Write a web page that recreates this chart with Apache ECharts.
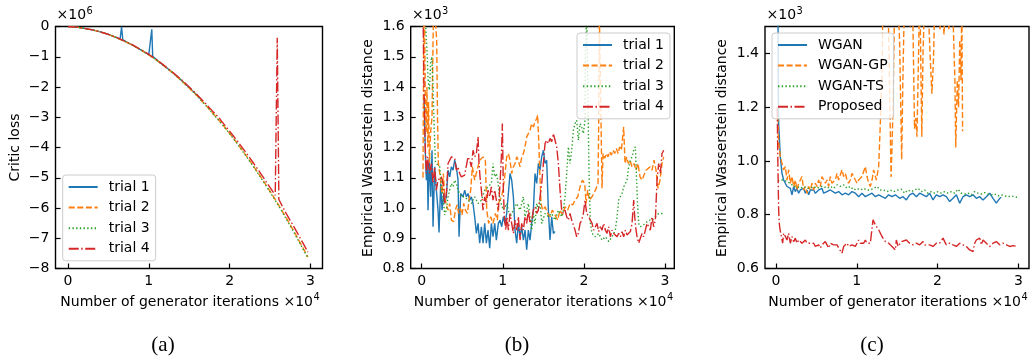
<!DOCTYPE html>
<html><head><meta charset="utf-8">
<script src="https://cdn.jsdelivr.net/npm/echarts@6/dist/echarts.min.js"></script>
<style>html,body{margin:0;padding:0;background:#fff}#c{width:1030px;height:358px}</style>
</head><body><div id="c"></div>
<script>
// ---------- DATA (x: generator iterations) ----------
// Panel (a): critic loss, y in units of 1e6
const aTrial1 = [[0,0],[1000,-0.02],[2000,-0.06],[3000,-0.11],[4000,-0.18],[5000,-0.26],[6000,-0.37],[6450,-0.41],[6630,-0.01],[6780,-0.44],[7000,-0.48],[8000,-0.62],[9000,-0.77],[10000,-0.93],[10150,-0.95],[10370,-0.09],[10480,-0.98],[11000,-1.11],[12000,-1.32],[13000,-1.53],[14000,-1.77],[15000,-2.02],[16000,-2.28],[16400,-2.39]];
const aTrial2 = [[0,0],[1000,-0.02],[2000,-0.06],[3000,-0.11],[4000,-0.18],[5000,-0.26],[6000,-0.37],[7000,-0.49],[8000,-0.62],[9000,-0.77],[10000,-0.94],[11000,-1.12],[12000,-1.33],[13000,-1.54],[14000,-1.78],[15000,-2.03],[16000,-2.30],[17000,-2.59],[18000,-2.89],[19000,-3.20],[20000,-3.53],[21000,-3.88],[22000,-4.25],[23000,-4.63],[24000,-5.03],[25000,-5.44],[26000,-5.87],[27000,-6.32],[28000,-6.79],[29000,-7.28],[29700,-7.62]];
const aTrial3 = [[0,0],[1000,-0.02],[2000,-0.06],[3000,-0.11],[4000,-0.18],[5000,-0.26],[6000,-0.37],[7000,-0.49],[8000,-0.62],[9000,-0.77],[10000,-0.94],[11000,-1.12],[12000,-1.33],[13000,-1.54],[14000,-1.78],[15000,-2.03],[16000,-2.30],[17000,-2.59],[18000,-2.90],[19000,-3.21],[20000,-3.54],[21000,-3.89],[22000,-4.27],[23000,-4.65],[24000,-5.05],[25000,-5.47],[26000,-5.90],[27000,-6.35],[28000,-6.82],[29000,-7.31],[29700,-7.66]];
const aTrial4 = [[0,0],[1000,-0.02],[2000,-0.06],[3000,-0.11],[4000,-0.18],[5000,-0.26],[6000,-0.36],[7000,-0.48],[8000,-0.61],[9000,-0.76],[10000,-0.92],[11000,-1.10],[12000,-1.31],[13000,-1.52],[14000,-1.75],[15000,-2.00],[16000,-2.26],[17000,-2.54],[18000,-2.83],[18700,-3.02],[19000,-3.13],[20000,-3.46],[21000,-3.80],[22000,-4.16],[23000,-4.53],[24000,-4.92],[25000,-5.32],[25650,-5.58],[25900,-0.37],[26100,-5.72],[27000,-6.18],[28000,-6.64],[29000,-7.12],[29700,-7.46]];

// Panel (b): empirical Wasserstein distance
const bTrial1 = [[288,1367],[452,1180],[575,1092],[699,1147],[781,993],[945,1169],[1110,1037],[1274,1191],[1397,938],[1603,1136],[1808,1059],[2014,993],[2137,919],[2343,1081],[2507,993],[2713,1048],[2836,1015],[3041,1037],[3247,1125],[3452,1103],[3658,1136],[3863,1125],[4069,1158],[4274,1136],[4480,1092],[4603,905],[4809,1048],[5096,1037],[5302,1059],[5507,1037],[5713,1048],[5918,1026],[6124,1037],[6329,1015],[6535,971],[6740,916],[6946,949],[7151,884],[7357,938],[7562,884],[7768,949],[7973,884],[8179,927],[8384,867],[8590,949],[8795,905],[9001,949],[9206,894],[9453,949],[9659,960],[9864,938],[10070,971],[10275,949],[10481,982],[10686,1048],[10892,1114],[11097,1092],[11303,1037],[11508,927],[11714,884],[11919,949],[12125,905],[12330,938],[12536,894],[12741,927],[12947,862],[13152,927],[13358,894],[13563,949],[13769,993],[13974,1114],[14180,1081],[14385,1147],[14591,1125],[14796,1169],[15002,1191],[15207,1147],[15413,1158],[15618,993],[15824,894],[16029,971],[16235,916],[16440,922]];
const bTrial2 = [[160,1100],[250,1600],[330,1700],[450,1350],[550,1250],[650,1400],[750,1200],[850,1350],[950,1150],[1100,1250],[1270,1300],[1450,1650],[1550,1700],[1750,1700],[1850,1550],[1950,1300],[2050,1150],[2150,1130],[2343,1136],[2507,1048],[2672,1114],[2836,1037],[3041,1010],[3247,993],[3452,1015],[3658,960],[3946,955],[4151,993],[4357,1010],[4562,982],[4768,999],[4973,977],[5179,1015],[5384,993],[5631,982],[5836,1026],[6042,1059],[6247,1136],[6535,1092],[6823,1125],[7151,1158],[7562,1169],[7850,1158],[8015,993],[8261,949],[8508,971],[8795,949],[9083,982],[9330,960],[9453,1015],[9864,1037],[10193,1092],[10481,1169],[10686,1180],[10892,1158],[11097,1114],[11303,1136],[11508,1147],[11714,1169],[11919,1158],[12125,1136],[12330,1169],[12536,1180],[12741,1202],[12947,1235],[13152,1246],[13358,1257],[13563,1279],[13769,1268],[13974,1285],[14180,1296],[14303,1307],[14426,1224],[14550,1125],[14714,1015],[14920,993],[15207,1004],[15536,982],[15824,971],[16111,993],[16440,977],[16769,960],[17057,993],[17345,977],[17673,1004],[18002,993],[18290,1015],[18618,1010],[18906,1026],[19235,1037],[19523,1070],[19810,1092],[20098,1081],[20262,1015],[20468,1059],[20673,1026],[21002,1037],[21413,1059],[21742,1081],[21824,1279],[21906,1650],[22112,1650],[22235,1065],[22358,1180],[22564,1164],[22769,1180],[22975,1169],[23180,1186],[23386,1175],[23591,1191],[23797,1180],[24002,1197],[24208,1180],[24413,1202],[24619,1191],[24783,1235],[24906,1268],[25071,1147],[25276,1169],[25482,1147],[25687,1158],[25934,1136],[26180,1147],[26427,1125],[26674,1147],[26920,1103],[27167,1092],[27413,1109],[27660,1125],[27906,1120],[28153,1136],[28400,1125],[28646,1158],[28893,1125],[29139,1065],[29386,1092],[29632,1147],[29838,1169]];
const bTrial3 = [[450,1620],[650,1520],[800,1420],[950,1390],[1100,1480],[1250,1500],[1400,1400],[1500,1300],[1600,1220],[1700,1150],[2219,1136],[2425,1081],[2630,1037],[2836,977],[3041,993],[3247,1037],[3452,1059],[3658,1081],[3863,1070],[4069,1092],[4274,1081],[4480,1059],[4891,1037],[5302,1037],[5713,1026],[6124,1015],[6535,1037],[6946,1015],[7357,1026],[7768,1059],[8179,1070],[8590,1081],[8795,1147],[9001,1103],[9206,1114],[9371,1092],[9659,1026],[10070,993],[10481,1015],[10892,971],[11303,993],[11714,1015],[12125,993],[12536,1037],[12741,971],[12947,993],[13152,1015],[13358,971],[13563,927],[13769,982],[13974,949],[14180,1015],[14385,993],[14591,1026],[14796,949],[15207,982],[15618,971],[16029,982],[16440,960],[16851,993],[17262,971],[17468,993],[17673,1037],[17879,1114],[18084,1202],[18290,1147],[18495,1191],[18701,1257],[18906,1279],[19112,1290],[19317,1224],[19523,1279],[19728,1268],[19934,1246],[20139,1290],[20180,1499],[20344,1650],[20468,1650],[20632,1114],[20796,949],[21002,916],[21413,905],[21824,916],[22235,894],[22646,905],[23057,889],[23468,905],[23879,927],[24085,971],[24290,1026],[24496,1037],[24701,1048],[24907,1070],[25112,1081],[25318,1092],[25523,1136],[25729,1158],[25934,1169],[26140,1191],[26345,1202],[26468,1114],[26592,1026],[26756,949],[26961,938],[27167,938],[27578,949],[27989,960],[28400,960],[28811,971],[29222,982],[29632,982],[29838,988]];
const bTrial4 = [[164,1650],[288,1389],[370,1279],[452,1191],[575,1114],[699,1169],[863,1136],[986,1114],[1192,1147],[1397,1081],[1603,1136],[1808,1059],[2014,1092],[2219,1092],[2425,1103],[2630,1081],[2836,1015],[3041,1048],[3247,1147],[3452,1158],[3658,1169],[4069,1164],[4274,1125],[4480,1136],[4685,1114],[4891,1103],[5302,1109],[5507,1114],[5713,1169],[5918,1158],[6124,1136],[6329,1191],[6535,1169],[6740,1180],[6946,1235],[7069,1147],[7192,1103],[7357,1059],[7562,993],[7768,1037],[7973,1015],[8179,1059],[8384,1037],[8590,1070],[8795,1026],[9001,1059],[9206,1026],[9453,993],[9659,1081],[9823,1169],[9946,1279],[10070,1059],[10193,971],[10358,927],[10522,971],[10686,927],[10892,982],[11097,949],[11303,916],[11508,960],[11714,927],[11919,971],[12125,894],[12330,949],[12536,927],[12741,971],[12947,949],[13152,993],[13358,949],[13563,960],[13769,993],[13974,1004],[14180,982],[14385,993],[14591,1037],[14796,1081],[15002,1147],[15207,1213],[15413,1224],[15618,1213],[15824,1230],[16029,1219],[16235,1246],[16440,1224],[16646,1202],[16851,1147],[17057,1059],[17262,993],[17468,982],[17673,993],[17879,971],[18084,960],[18290,982],[18495,960],[18701,944],[18906,927],[19112,905],[19317,916],[19523,949],[19728,960],[19934,982],[20139,1026],[20344,982],[20591,971],[20796,960],[21002,949],[21207,927],[21413,938],[21618,949],[21824,922],[22030,938],[22235,927],[22441,949],[22646,927],[22852,916],[23057,938],[23263,905],[23468,927],[23674,916],[23879,916],[24085,905],[24290,916],[24496,905],[24701,922],[24907,905],[25112,927],[25318,911],[25523,916],[25729,922],[25934,949],[26140,1026],[26263,971],[26427,927],[26550,905],[26756,884],[26961,889],[27167,916],[27372,905],[27578,927],[27783,949],[27989,938],[28194,927],[28400,971],[28605,938],[28811,960],[29016,1092],[29222,1147],[29427,1114],[29632,1180],[29838,1191]];

// Panel (c): empirical Wasserstein distance per method
const cWgan = [[250,1560],[289,1250],[330,1140],[537,1016],[743,954],[949,929],[1156,917],[1362,905],[1568,911],[1775,898],[1981,874],[2187,905],[2394,886],[2600,898],[2806,880],[3013,892],[3219,886],[3425,898],[3632,880],[3838,892],[4044,874],[4251,892],[4457,886],[4663,892],[4870,880],[5076,886],[5283,892],[5489,886],[5695,898],[5902,880],[6108,886],[6314,886],[6521,880],[6727,892],[6933,886],[7346,880],[7759,886],[8171,874],[8584,880],[8997,874],[9410,886],[9822,880],[10235,867],[10648,880],[11060,867],[11473,874],[11886,880],[12298,867],[12711,874],[13124,867],[13537,861],[13743,855],[13949,874],[14362,867],[14775,874],[14898,867],[15311,861],[15724,867],[16137,855],[16549,874],[16962,880],[17375,867],[17787,880],[18200,874],[18613,867],[19025,880],[19438,855],[19851,874],[20264,867],[20676,874],[21089,867],[21502,849],[21914,861],[22327,874],[22740,843],[23152,867],[23565,874],[23978,867],[24390,874],[24803,861],[25216,867],[25628,855],[26041,867],[26454,880],[26866,861],[27279,843],[27485,837],[27692,861],[27898,865]];
const cWganGp = [[206,1165],[330,1066],[537,1016],[743,991],[949,967],[1156,979],[1362,929],[1568,967],[1775,917],[1981,942],[2187,905],[2394,929],[2600,892],[2806,917],[3013,929],[3219,942],[3425,892],[3632,905],[3838,880],[4044,905],[4251,892],[4457,917],[4663,892],[4870,917],[5076,905],[5283,929],[5489,905],[5695,942],[6108,917],[6314,929],[6521,905],[6727,942],[6933,917],[7346,929],[7553,954],[7759,929],[8171,967],[8378,942],[8584,954],[8791,929],[8997,917],[9203,929],[9410,954],[9616,942],[9822,929],[10029,917],[10235,929],[10648,942],[11060,979],[11267,942],[11473,917],[11679,905],[11886,929],[12092,967],[12298,967],[12422,929],[12711,979],[12918,1140],[13124,1326],[13248,1600],[13500,1650],[13900,1550],[14100,1200],[14250,940],[14450,1150],[14700,1600],[15000,1650],[15300,1450],[15560,1005],[15700,1290],[15900,1600],[16200,1650],[16600,1500],[16900,1620],[17150,1120],[17300,1160],[17450,1090],[17650,1400],[17800,1650],[18050,1090],[18200,1400],[18450,1650],[18800,1600],[19100,1380],[19300,1250],[19500,1380],[19700,1650],[20000,1620],[20300,1490],[20500,1600],[20800,1470],[21100,1650],[21400,1490],[21700,1650],[21950,1500],[22150,1300],[22250,1050],[22450,1300],[22600,1200],[22750,1450],[22900,1300],[23000,1600],[23100,1110]];
const cWganTs = [[250,925],[537,929],[949,929],[1362,923],[1775,917],[2187,905],[2600,905],[3013,898],[3425,905],[3838,898],[4251,898],[4663,905],[5076,898],[5489,905],[5902,905],[6314,898],[6727,905],[7140,898],[7553,911],[7965,905],[8378,911],[8791,898],[9203,905],[9616,892],[10029,898],[10441,892],[10854,898],[11267,892],[11679,892],[12092,898],[12505,905],[12918,892],[13330,892],[13743,886],[14156,892],[14568,886],[15105,892],[15517,895],[15930,880],[16343,892],[16756,886],[17168,892],[17581,898],[17994,886],[18406,892],[18819,880],[19232,886],[19645,880],[20057,886],[20470,880],[20883,886],[21296,880],[21708,886],[22121,880],[22534,895],[22946,880],[23359,877],[23772,880],[24184,874],[24597,886],[25010,880],[25423,877],[25835,882],[26248,877],[26661,874],[27073,877],[27486,870],[27899,874],[28312,870],[28724,867],[29137,870],[29550,867],[29839,865]];
const cProposed = [[150,1200],[250,960],[330,820],[400,770],[500,745],[825,694],[949,731],[1156,719],[1362,706],[1568,731],[1775,694],[1981,719],[2187,700],[2394,713],[2600,694],[2806,706],[3013,700],[3219,694],[3425,688],[3632,706],[3838,694],[4044,700],[4251,694],[4457,688],[4663,694],[4870,682],[5076,688],[5283,688],[5489,676],[5695,688],[5902,682],[6108,700],[6314,688],[6521,676],[6727,694],[6933,694],[7140,688],[7346,682],[7553,688],[7759,676],[7965,669],[8171,657],[8378,682],[8584,688],[8791,694],[8997,682],[9203,676],[9410,688],[9616,694],[9822,682],[10029,694],[10235,706],[10441,694],[10648,700],[10854,694],[11060,706],[11267,694],[11473,700],[11679,694],[11886,700],[12010,781],[12298,762],[12711,744],[13124,719],[13537,700],[13949,694],[14362,682],[14775,669],[14898,706],[15105,682],[15517,700],[15724,694],[16137,706],[16549,694],[16962,688],[17375,694],[17787,688],[18200,700],[18406,688],[18613,694],[19025,688],[19438,682],[19851,694],[20264,694],[20676,713],[20883,700],[21089,688],[21502,694],[21914,688],[22327,682],[22740,694],[23152,688],[23565,682],[23978,669],[24390,663],[24597,694],[24803,706],[25216,713],[25423,688],[25628,706],[26041,694],[26454,682],[26866,694],[27279,700],[27692,688],[28105,694],[28518,688],[28931,682],[29343,685],[29839,682]];

const trialNames = ['trial 1','trial 2','trial 3','trial 4'];
const methodNames = ['WGAN','WGAN-GP','WGAN-TS','Proposed'];
const xTicks = [0, 10000, 20000, 30000];
const aYTicks = [-8,-7,-6,-5,-4,-3,-2,-1,0];
const bYTicks = [800,900,1000,1100,1200,1300,1400,1500,1600];
const cYTicks = [600,800,1000,1200,1400];

// ---------- STYLE ----------
const FONT = "'DejaVu Sans', 'Noto Sans', sans-serif";
const FS = 14;
const COLORS = ['#1f77b4','#ff7f0e','#2ca02c','#d62728'];
const DASH = ['solid',[6,2.6],[1.4,2.3],[10,2.5,1.5,2.5]];

const measureCtx = document.createElement('canvas').getContext('2d');
function textW(s, size) { measureCtx.font = size + 'px ' + FONT; return measureCtx.measureText(s).width; }

const grids = [
  {left:55.5, top:26.5, width:267, height:242},
  {left:410.7, top:26.5, width:263.6, height:242},
  {left:765, top:26.5, width:264, height:242}
].map(g => Object.assign(g, {show:true, borderColor:'#000', borderWidth:1.4, backgroundColor:'transparent'}));

function xAx(i, min, max) {
  return {type:'value', gridIndex:i, min, max,
    axisLine:{show:false, onZero:false},
    axisTick:{show:true, inside:true, length:5, customValues:xTicks, lineStyle:{color:'#000', width:1.2}},
    axisLabel:{customValues:xTicks, formatter:v => String(Math.round(v/10000)), color:'#000', fontFamily:FONT, fontSize:FS, margin:6},
    splitLine:{show:false}};
}
function yAx(i, min, max, ticks, fmt) {
  return {type:'value', gridIndex:i, min, max,
    axisLine:{show:false, onZero:false},
    axisTick:{show:true, inside:true, length:5, customValues:ticks, lineStyle:{color:'#000', width:1.2}},
    axisLabel:{customValues:ticks, formatter:fmt, color:'#000', fontFamily:FONT, fontSize:FS, margin:6},
    splitLine:{show:false}};
}
function ser(name, data, k, gi) {
  return {type:'line', name, data, xAxisIndex:gi, yAxisIndex:gi, symbol:'none', showSymbol:false,
    clip:true, animation:false, emphasis:{disabled:true},
    lineStyle:{color:COLORS[k], width:1.4, type:DASH[k]}, itemStyle:{color:COLORS[k]}};
}
function leg(names, left, top) {
  return {data:names, orient:'vertical', left, top, itemWidth:29, itemHeight:14, itemGap:6.6,
    padding:[5,6,5,5], backgroundColor:'rgba(255,255,255,0.8)', borderColor:'#cccccc', borderWidth:1, borderRadius:3,
    selectedMode:false, itemStyle:{opacity:0},
    textStyle:{fontFamily:FONT, fontSize:FS, color:'#000', padding:[0,0,0,6]}};
}
function t(x, y, text, size) {
  return {type:'text', x, y, silent:true,
    style:{text, fill:'#000', font:size+'px '+FONT, align:'left', verticalAlign:'middle'}};
}
function tc(x, y, text, size, font, rot) {
  return {type:'text', x, y, rotation:rot||0, silent:true,
    style:{text, fill:'#000', font:size+'px '+(font||FONT), align:'center', verticalAlign:'middle'}};
}

const minus = v => v === 0 ? '0' : (v < 0 ? '\u2212' + Math.abs(v) : String(v));
const thousands = v => (v/1000).toFixed(1);

const graphics = [];
const SUP = 9.8;
// offset texts on top of each y axis
[[56.5,'6'],[412,'3'],[766.5,'3']].forEach(([x,e]) => {
  graphics.push(t(x, 15.5, '\u00d710', FS));
  graphics.push(t(x + textW('\u00d710', FS) + 0.5, 11.5, e, SUP));
});
// x axis labels, centred on each grid
const xLabelMain = 'Number of generator iterations \u00d710';
const xLabelW = textW(xLabelMain, FS) + textW('4', SUP) + 0.5;
grids.forEach(g => {
  const x0 = g.left + g.width / 2 - xLabelW / 2 + 1;
  graphics.push(t(x0, 302, xLabelMain, FS));
  graphics.push(t(x0 + textW(xLabelMain, FS) + 0.5, 297.5, '4', SUP));
});
// y axis labels
graphics.push(tc(15, 147.5, 'Critic loss', 14, null, Math.PI/2));
graphics.push(tc(368, 148, 'Empirical Wasserstein distance', 14, null, Math.PI/2));
graphics.push(tc(722, 148, 'Empirical Wasserstein distance', 14, null, Math.PI/2));
// panel captions
const SERIF = "'Liberation Serif', 'DejaVu Serif', serif";
graphics.push(tc(163, 345, '(a)', 21, SERIF));
graphics.push(tc(517, 345, '(b)', 21, SERIF));
graphics.push(tc(872, 345, '(c)', 21, SERIF));

const option = {
  animation:false,
  backgroundColor:'#fff',
  grid: grids,
  xAxis: [xAx(0,-1550,31500), xAx(1,-1356,31146), xAx(2,-1360,31320)],
  yAxis: [yAx(0,-8,0,aYTicks,minus), yAx(1,800,1600,bYTicks,thousands), yAx(2,600,1500,cYTicks,thousands)],
  legend: [leg(trialNames,62.7,175), leg(trialNames,577,33), leg(methodNames,772,33)],
  series: [
    ser('trial 1', aTrial1, 0, 0), ser('trial 2', aTrial2, 1, 0), ser('trial 3', aTrial3, 2, 0), ser('trial 4', aTrial4, 3, 0),
    ser('trial 1', bTrial1, 0, 1), ser('trial 2', bTrial2, 1, 1), ser('trial 3', bTrial3, 2, 1), ser('trial 4', bTrial4, 3, 1),
    ser('WGAN', cWgan, 0, 2), ser('WGAN-GP', cWganGp, 1, 2), ser('WGAN-TS', cWganTs, 2, 2), ser('Proposed', cProposed, 3, 2)
  ],
  graphic: graphics
};
const chart = echarts.init(document.getElementById('c'));
chart.setOption(option);
</script>
</body></html>
